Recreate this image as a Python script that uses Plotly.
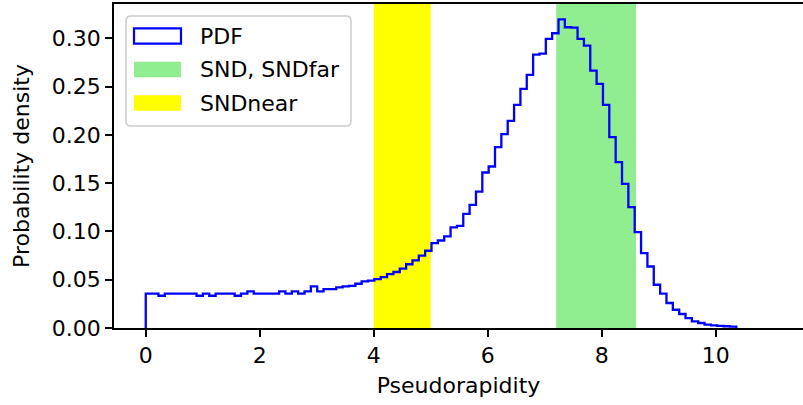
import numpy as np
import plotly.graph_objects as go

# ---- data -------------------------------------------------------------
# histogram of pseudorapidity: 100 equal-width bins from ETA_MIN to ETA_MAX
ETA_MIN = 0.0
ETA_MAX = 11.14
N_BINS = 100

pdf_values = [
    0.0355, 0.0355, 0.0334, 0.0355, 0.0355, 0.0355, 0.0355, 0.0355, 0.0334, 0.0355,
    0.0334, 0.0355, 0.0355, 0.0355, 0.0334, 0.0355, 0.0379, 0.0355, 0.0355, 0.0355,
    0.0355, 0.0379, 0.0355, 0.0379, 0.0355, 0.0379, 0.0430, 0.0379, 0.0403, 0.0403,
    0.0420, 0.0430, 0.0437, 0.0458, 0.0482, 0.0490, 0.0507, 0.0527, 0.0558, 0.0580,
    0.0615, 0.0660, 0.0700, 0.0750, 0.0800, 0.0879, 0.0906, 0.0948, 0.1041, 0.1058,
    0.1182, 0.1275, 0.1413, 0.1610, 0.1672, 0.1872, 0.2007, 0.2144, 0.2310, 0.2475,
    0.2620, 0.2830, 0.2840, 0.2993, 0.3052, 0.3195, 0.3114, 0.3110, 0.2993, 0.2923,
    0.2665, 0.2527, 0.2310, 0.1976, 0.1717, 0.1493, 0.1252, 0.0993, 0.0776, 0.0637,
    0.0448, 0.0355, 0.0259, 0.0189, 0.0145, 0.0103, 0.0068, 0.0052, 0.0035, 0.0027,
    0.0022, 0.0018, 0.0015, 0.0, 0.0, 0.0, 0.0, 0.0, 0.0, 0.0,
]

# detector acceptance windows (pseudorapidity ranges)
snd_far_range = (7.2, 8.6)
snd_near_range = (4.0, 5.0)

legend_labels = ["PDF", "SND, SNDfar", "SNDnear"]
x_tick_vals = [0, 2, 4, 6, 8, 10]
y_tick_vals = [0.00, 0.05, 0.10, 0.15, 0.20, 0.25, 0.30]

# ---- styling ----------------------------------------------------------
FONT = "DejaVu Sans"
FS = 22
BLUE = "#0000ff"
GREEN = "#90ee90"
YELLOW = "#ffff00"

W, H = 803, 405
ML, MR, MT, MB = 114, 0, 4, 77
PW, PH = W - ML - MR, H - MT - MB

edges = np.linspace(ETA_MIN, ETA_MAX, N_BINS + 1)
vals = np.asarray(pdf_values)

# matplotlib-like autoscaling: 5% x padding, y from 0 to 1.05 * peak
x_lo = ETA_MIN - 0.05 * (ETA_MAX - ETA_MIN)
x_range = [x_lo, 11.53]
y_range = [0.0, 1.05 * vals.max()]


def px(xp):
    return (xp - ML) / PW


def py(yp):
    return (MT + PH - yp) / PH


# outline of the step histogram; empty trailing bins lie on the x axis,
# so the outline stops where the last populated bin drops to zero
n_used = int(np.nonzero(vals)[0].max()) + 1
step_x = np.concatenate([[edges[0]], edges[: n_used + 1]])
step_y = np.concatenate([[0.0], vals[:n_used], [0.0]])

fig = go.Figure()
fig.add_trace(go.Scatter(
    x=step_x, y=step_y, mode="lines", line_shape="hv",
    line=dict(color=BLUE, width=2.3), name=legend_labels[0],
    showlegend=False, hoverinfo="skip",
))

shapes = []
for (a, b), col in ((snd_near_range, YELLOW), (snd_far_range, GREEN)):
    shapes.append(dict(type="rect", xref="x", yref="paper", x0=a, x1=b, y0=0, y1=1,
                       fillcolor=col, line=dict(width=0), layer="below"))

# legend frame with rounded corners (pixel geometry -> paper coordinates)
lx0, lx1, ly0, ly1, r = 126, 351, 16, 126, 5
path = (f"M {px(lx0 + r)} {py(ly0)} L {px(lx1 - r)} {py(ly0)} "
        f"Q {px(lx1)} {py(ly0)} {px(lx1)} {py(ly0 + r)} L {px(lx1)} {py(ly1 - r)} "
        f"Q {px(lx1)} {py(ly1)} {px(lx1 - r)} {py(ly1)} L {px(lx0 + r)} {py(ly1)} "
        f"Q {px(lx0)} {py(ly1)} {px(lx0)} {py(ly1 - r)} L {px(lx0)} {py(ly0 + r)} "
        f"Q {px(lx0)} {py(ly0)} {px(lx0 + r)} {py(ly0)} Z")
shapes.append(dict(type="path", xref="paper", yref="paper", path=path,
                   fillcolor="rgba(255,255,255,0.8)", line=dict(color="#cccccc", width=1.5),
                   layer="above"))

row_centers = [36.0, 69.5, 103.0]
handle_h = 15.4
handle_styles = [
    dict(fillcolor="white", line=dict(color=BLUE, width=2.2)),
    dict(fillcolor=GREEN, line=dict(width=0)),
    dict(fillcolor=YELLOW, line=dict(width=0)),
]
annotations = []
for yc, label, st in zip(row_centers, legend_labels, handle_styles):
    shapes.append(dict(type="rect", xref="paper", yref="paper",
                       x0=px(134), x1=px(181), y0=py(yc + handle_h / 2), y1=py(yc - handle_h / 2),
                       layer="above", **st))
    annotations.append(dict(text=label, xref="paper", yref="paper", x=px(198), y=py(yc),
                            xanchor="left", yanchor="middle", showarrow=False,
                            font=dict(family=FONT, size=FS, color="black")))

axis_common = dict(
    showgrid=False, zeroline=False, showline=True, linecolor="black", linewidth=1.8,
    ticks="outside", ticklen=7, tickwidth=1.6, tickcolor="black",
    tickfont=dict(family=FONT, size=FS, color="black"),
)

fig.update_layout(
    width=W, height=H, margin=dict(l=ML, r=MR, t=MT, b=MB),
    plot_bgcolor="white", paper_bgcolor="white",
    font=dict(family=FONT, size=FS, color="black"),
    shapes=shapes, annotations=annotations, showlegend=False,
    xaxis=dict(range=x_range, tickvals=x_tick_vals, mirror=True,
               title=dict(text="Pseudorapidity", standoff=10,
                          font=dict(family=FONT, size=FS, color="black")),
               **axis_common),
    yaxis=dict(range=y_range, tickvals=y_tick_vals, tickformat=".2f",
               title=dict(text="Probability density", standoff=16,
                          font=dict(family=FONT, size=FS, color="black")),
               **axis_common),
)

fig.write_html("out.html")
